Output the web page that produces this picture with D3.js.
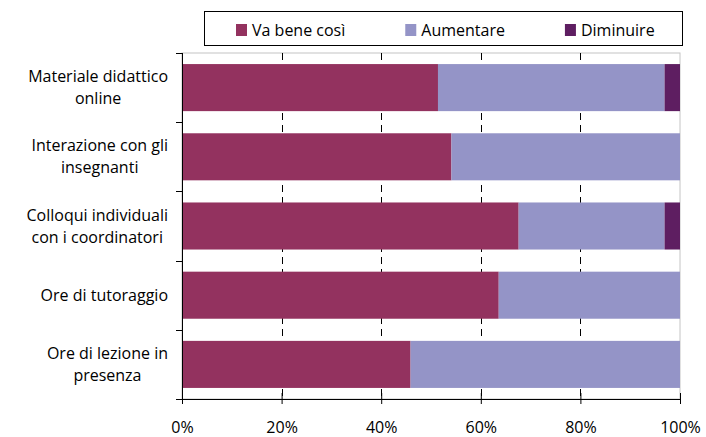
<!DOCTYPE html>
<html>
<head>
<meta charset="utf-8">
<script src="https://cdn.jsdelivr.net/npm/d3@7"></script>
<style>
  body { margin: 0; background: #fff; }
  text { font-family: "Open Sans", sans-serif; fill: #000; }
</style>
</head>
<body>
<svg></svg>
<script>
// categories, top to bottom (each entry = lines of the label)
var categories = [
    ["Materiale didattico", "online"],
    ["Interazione con gli", "insegnanti"],
    ["Colloqui individuali", "con i coordinatori"],
    ["Ore di tutoraggio"],
    ["Ore di lezione in", "presenza"]
];
var seriesNames = ["Va bene così", "Aumentare", "Diminuire"];
var vaBene    = [51.4, 54.1, 67.6, 63.6, 45.9];
var aumentare = [45.5, 45.9, 29.3, 36.4, 54.1];
var diminuire = [3.1, 0, 3.1, 0, 0];
var tickValues = [0, 20, 40, 60, 80, 100];
var tickLabels = ["0%", "20%", "40%", "60%", "80%", "100%"];

var colors = ["#93325f", "#9494c7", "#5e1e61"];

var svgWidth = 706, svgHeight = 437;
var margin = {top: 53, right: 26, bottom: 38, left: 182};
var width = svgWidth - margin.left - margin.right;
var height = svgHeight - margin.top - margin.bottom;

var svg = d3.select("svg")
    .attr("width", svgWidth)
    .attr("height", svgHeight);

var g = svg.append("g")
    .attr("transform", "translate(" + margin.left + "," + margin.top + ")");

var x = d3.scaleLinear().domain([0, 100]).range([0, width]);
var y = d3.scaleBand().domain(d3.range(categories.length)).range([0, height]).paddingInner(0.32).paddingOuter(0.16);

// plot area border
g.append("rect")
    .attr("width", width)
    .attr("height", height)
    .attr("fill", "none")
    .attr("stroke", "#c4c4c4");

// dashed gridlines
g.selectAll(".grid")
    .data(tickValues.slice(1, -1))
    .enter()
    .append("line")
    .attr("x1", function(d) { return Math.round(x(d)) + 0.5; })
    .attr("x2", function(d) { return Math.round(x(d)) + 0.5; })
    .attr("y1", 0)
    .attr("y2", height)
    .attr("stroke", "#000")
    .attr("stroke-dasharray", "7,5");

// stacked bars
var rows = categories.map(function(c, i) {
    return {i: i, "Va bene così": vaBene[i], "Aumentare": aumentare[i], "Diminuire": diminuire[i]};
});
var stack = d3.stack().keys(seriesNames);
var layers = stack(rows);

g.selectAll(".layer")
    .data(layers)
    .enter()
    .append("g")
    .attr("fill", function(d, i) { return colors[i]; })
    .selectAll("rect")
    .data(function(d) { return d; })
    .enter()
    .append("rect")
    .attr("x", function(d) { return x(d[0]); })
    .attr("width", function(d) { return x(d[1]) - x(d[0]); })
    .attr("y", function(d) { return y(d.data.i); })
    .attr("height", y.bandwidth());

// bottom axis (crossing ticks)
var xAxis = g.append("g")
    .attr("transform", "translate(0," + height + ")")
    .call(d3.axisBottom(x).tickValues(tickValues).tickFormat(function(d, i) { return tickLabels[i]; }).tickSizeInner(5).tickSizeOuter(0));
xAxis.select(".domain").attr("stroke", "#000");
xAxis.selectAll(".tick line").attr("y1", -6).attr("stroke", "#000");
xAxis.selectAll(".tick text")
    .attr("y", 0)
    .attr("dy", "34")
    .style("font-size", "16px")
    .style("font-family", "'Open Sans', sans-serif");

// left axis with ticks at band boundaries
var step = y.step();
var leftAxis = g.append("g");
leftAxis.append("line")
    .attr("x1", 0.5).attr("x2", 0.5)
    .attr("y1", 0).attr("y2", height + 5)
    .attr("stroke", "#000");
leftAxis.selectAll(".ytick")
    .data(d3.range(categories.length + 1))
    .enter()
    .append("line")
    .attr("x1", -6).attr("x2", 0)
    .attr("y1", function(d) { return Math.round(d * step) + 0.5; })
    .attr("y2", function(d) { return Math.round(d * step) + 0.5; })
    .attr("stroke", "#000");

// category labels, centred lines, right edge at 168
var labels = svg.append("g").selectAll(".cat")
    .data(categories)
    .enter()
    .append("text")
    .attr("text-anchor", "middle")
    .style("font-size", "16px");
labels.each(function(lines, i) {
    var t = d3.select(this);
    var cy = margin.top + y(i) + y.bandwidth() / 2;
    lines.forEach(function(line, k) {
        t.append("tspan")
            .attr("y", cy + 5.5 + (k - (lines.length - 1) / 2) * 22)
            .text(line);
    });
    var maxW = 0;
    t.selectAll("tspan").each(function() { maxW = Math.max(maxW, this.getComputedTextLength()); });
    t.selectAll("tspan").attr("x", 168 - maxW / 2);
});

// legend
var legend = svg.append("g");
legend.append("rect")
    .attr("x", 204.5).attr("y", 11.5)
    .attr("width", 478).attr("height", 34)
    .attr("fill", "#fff")
    .attr("stroke", "#000");
var lx = 236;
seriesNames.forEach(function(name, i) {
    legend.append("rect")
        .attr("x", lx).attr("y", 24)
        .attr("width", 11).attr("height", 12)
        .attr("fill", colors[i]);
    var t = legend.append("text")
        .attr("x", lx + 16).attr("y", 36)
        .style("font-size", "16px")
        .text(name);
    lx += 16 + t.node().getComputedTextLength() + 60;
});
</script>
</body>
</html>
